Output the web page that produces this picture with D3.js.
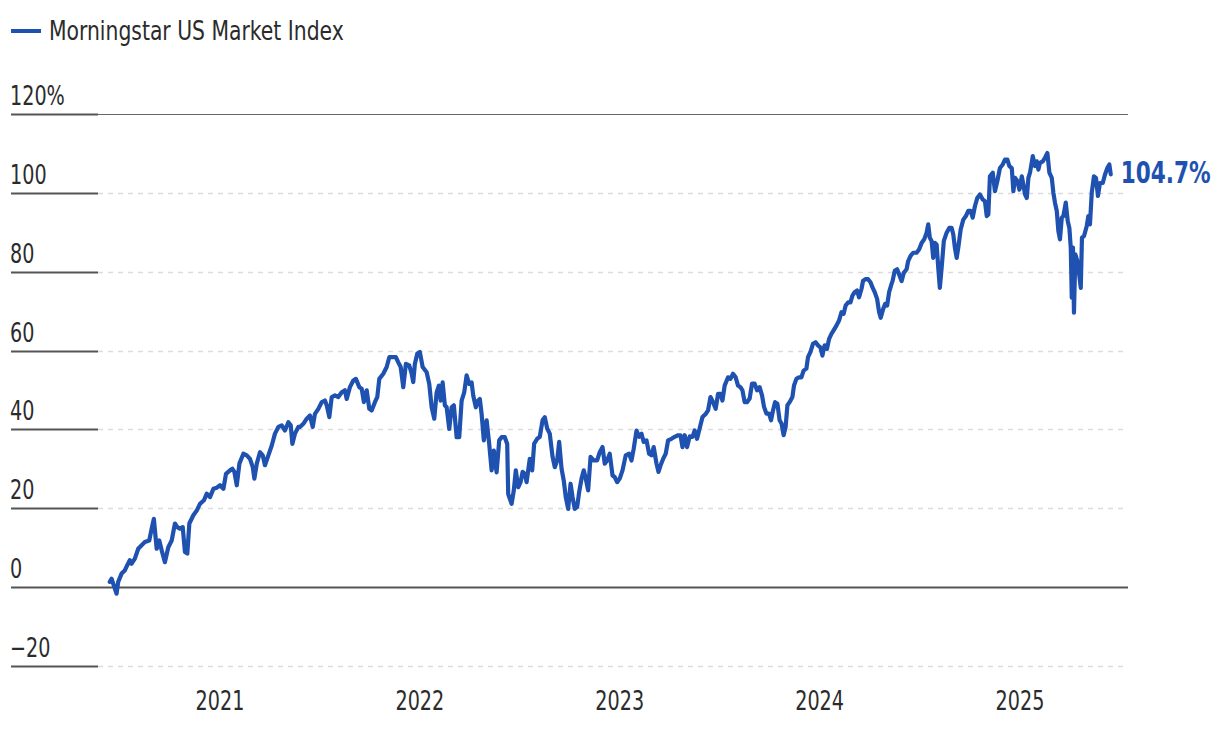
<!DOCTYPE html>
<html>
<head>
<meta charset="utf-8">
<script src="https://cdn.jsdelivr.net/npm/d3@7"></script>
<style>
  html, body { margin: 0; padding: 0; background: #fff; }
  svg text { font-family: "DejaVu Sans Condensed", "DejaVu Sans", sans-serif; font-stretch: condensed; }
</style>
</head>
<body>
<svg id="chart" width="1220" height="732"></svg>
<script>
// Series: Morningstar US Market Index cumulative return (%), dates as decimal years
const seriesName = "Morningstar US Market Index";
const dates = [
2020.450,2020.459,2020.470,2020.484,2020.492,2020.509,2020.525,2020.534,2020.550,2020.559,2020.575,2020.592,2020.609,2020.625,2020.647,2020.659,2020.670,2020.684,2020.697,2020.709,2020.725,2020.742,2020.759,2020.775,2020.787,2020.800,2020.814,2020.825,2020.837,2020.847,2020.867,2020.884,2020.900,2020.920,2020.934,2020.950,2020.967,2020.984,
2021.000,2021.017,2021.030,2021.050,2021.062,2021.072,2021.084,2021.097,2021.117,2021.134,2021.150,2021.164,2021.172,2021.184,2021.200,2021.214,2021.225,2021.242,2021.259,2021.275,2021.292,2021.309,2021.325,2021.342,2021.354,2021.362,2021.375,2021.392,
2021.400,2021.417,2021.434,2021.450,2021.464,2021.475,2021.492,2021.509,2021.525,2021.534,2021.547,2021.559,2021.575,2021.592,2021.609,2021.625,2021.634,2021.650,2021.667,2021.680,2021.697,2021.709,2021.720,2021.734,2021.747,2021.759,2021.775,2021.787,2021.797,2021.817,2021.834,2021.847,2021.864,2021.880,2021.892,2021.904,2021.917,2021.930,2021.947,2021.959,2021.967,2021.975,2021.987,
2022.000,2022.014,2022.034,2022.047,2022.059,2022.072,2022.084,2022.095,2022.104,2022.114,2022.125,2022.134,2022.147,2022.159,2022.170,2022.184,2022.197,2022.209,2022.222,2022.234,2022.247,2022.259,2022.267,2022.280,2022.292,2022.300,2022.309,2022.320,2022.334,2022.347,2022.359,2022.370,2022.384,2022.397,2022.409,2022.425,2022.437,
2022.442,2022.459,2022.470,2022.480,2022.492,2022.504,2022.514,2022.525,2022.534,2022.550,2022.562,2022.572,2022.587,2022.600,2022.614,2022.625,2022.637,2022.650,2022.664,2022.675,2022.687,2022.697,2022.709,2022.720,2022.730,2022.742,2022.754,2022.764,2022.775,2022.787,2022.797,2022.809,2022.820,2022.830,2022.842,2022.854,2022.870,2022.887,2022.900,2022.914,2022.925,2022.937,2022.950,2022.964,2022.975,2022.987,
2023.000,2023.014,2023.030,2023.047,2023.059,2023.070,2023.084,2023.097,2023.109,2023.120,2023.134,2023.147,2023.159,2023.170,2023.184,2023.194,2023.204,2023.217,2023.230,2023.242,2023.259,2023.275,2023.292,2023.304,2023.314,2023.325,2023.337,2023.350,2023.364,2023.375,2023.387,
2023.400,2023.414,2023.430,2023.442,2023.454,2023.467,2023.480,2023.492,2023.504,2023.514,2023.525,2023.542,2023.554,2023.567,2023.580,2023.592,2023.604,2023.614,2023.625,2023.637,2023.650,2023.662,2023.675,2023.687,2023.700,2023.712,2023.722,2023.734,2023.747,2023.757,2023.767,2023.777,2023.789,2023.800,2023.810,2023.820,2023.830,2023.839,2023.850,2023.864,2023.872,2023.884,2023.897,2023.909,2023.920,2023.934,2023.942,2023.954,2023.967,2023.980,2023.992,
2024.004,2024.014,2024.025,2024.037,2024.047,2024.059,2024.070,2024.084,2024.097,2024.109,2024.120,2024.130,2024.142,2024.154,2024.164,2024.175,2024.187,2024.197,2024.209,2024.217,2024.230,2024.242,2024.254,2024.264,2024.275,2024.287,2024.297,2024.305,2024.317,2024.327,2024.337,2024.347,2024.359,
2024.364,2024.375,2024.387,2024.397,2024.409,2024.420,2024.434,2024.442,2024.454,2024.467,2024.484,2024.497,2024.509,2024.522,2024.534,2024.542,2024.550,2024.559,2024.567,2024.575,2024.584,2024.592,2024.600,2024.609,2024.620,2024.634,2024.647,2024.659,2024.667,2024.675,2024.684,2024.692,2024.704,2024.717,2024.730,2024.742,2024.754,2024.764,2024.775,2024.787,2024.800,2024.814,2024.825,2024.834,2024.842,2024.850,2024.864,2024.875,2024.887,2024.900,2024.914,2024.925,2024.937,2024.947,2024.959,2024.967,2024.975,2024.987,2024.997,
2025.009,2025.017,2025.025,2025.034,2025.042,2025.050,2025.064,2025.075,2025.084,2025.092,2025.100,2025.114,2025.125,2025.137,2025.147,2025.159,2025.167,2025.175,2025.184,2025.192,2025.200,2025.209,2025.217,2025.229,2025.239,2025.247,2025.254,2025.259,2025.265,2025.270,2025.277,2025.287,2025.294,2025.304,2025.310,2025.320,2025.334,2025.342,2025.350,2025.359,2025.370,2025.380,2025.390,2025.400,2025.414,2025.425,2025.437,2025.447,2025.454
];
const returns = [
1.3,2.1,0.4,-1.7,1.3,3.4,4.2,5.2,6.8,5.9,7.2,9.7,10.6,11.4,11.8,14.8,17.3,9.7,11.8,9.3,6.3,10.1,11.8,16.1,15.2,14.8,15.2,8.9,8.5,16.1,18.2,19.4,21.1,22.0,23.7,22.8,24.9,25.2,
25.8,24.9,28.7,29.6,30.0,29.2,25.8,31.3,33.8,33.4,32.5,30.4,27.5,31.3,34.2,33.4,30.9,33.4,35.9,38.9,40.6,41.0,39.7,41.8,41.0,36.3,38.9,40.6,
40.6,41.4,42.7,43.5,40.6,43.9,45.2,46.9,47.3,46.1,43.1,48.2,48.6,48.2,49.4,49.9,47.7,50.7,52.4,52.8,50.7,50.3,46.9,49.9,45.2,44.8,46.9,48.2,52.8,54.1,55.8,58.3,58.3,58.3,57.0,55.8,50.7,56.6,56.2,54.1,52.0,56.6,59.2,
59.6,55.8,54.5,51.5,45.6,42.7,49.4,51.1,47.3,51.9,46.1,45.6,40.1,45.6,46.1,38.0,38.0,47.3,49.4,53.7,51.5,51.9,48.6,45.6,47.3,47.7,43.9,37.2,42.3,36.3,29.6,34.6,29.1,37.2,38.0,38.0,36.3,
23.6,21.1,24.5,29.6,25.3,26.6,29.2,28.7,26.6,32.5,29.6,36.4,37.6,38.1,42.3,43.1,40.2,38.9,33.0,30.4,32.1,36.8,30.0,27.0,22.8,19.8,26.2,22.8,19.8,20.3,24.1,27.5,29.6,27.5,24.5,33.0,32.1,32.1,34.2,35.5,31.3,32.1,33.8,28.3,27.9,26.6,
27.5,29.6,33.4,33.8,32.1,35.1,39.7,38.1,38.9,36.8,37.2,33.8,33.4,35.5,31.3,29.2,30.8,32.5,33.8,37.2,37.6,38.1,38.5,38.5,35.5,38.5,35.5,38.2,38.1,39.7,37.6,
40.3,43.1,43.9,44.8,48.2,46.9,45.2,49.0,49.0,47.3,51.1,53.2,52.8,54.1,53.2,51.1,50.7,49.9,46.9,46.9,47.8,51.6,51.6,49.9,50.7,48.6,45.7,44.0,44.0,42.3,44.8,46.9,46.5,42.3,41.4,38.5,40.6,46.1,46.9,48.2,51.1,52.8,53.2,53.2,54.9,55.4,58.3,59.6,61.7,62.1,61.3,
60.8,58.7,61.3,60.4,62.9,64.2,65.1,66.3,67.6,69.7,69.3,71.4,72.2,72.2,73.9,74.8,75.2,73.5,75.6,77.7,78.1,78.1,77.3,76.0,74.8,73.1,69.7,68.3,70.5,71.8,71.4,74.8,76.9,
77.6,80.2,80.6,79.3,77.6,79.7,80.6,82.7,84.0,84.8,84.8,85.7,87.3,88.2,89.9,92.0,88.6,87.8,83.5,87.3,86.9,81.0,75.9,81.0,87.8,89.9,91.1,91.1,89.5,86.1,83.5,86.1,90.7,93.2,94.1,95.4,95.4,93.7,96.6,98.7,99.6,98.3,97.9,94.1,94.5,104.2,105.1,100.4,103.0,106.3,107.2,108.4,108.4,106.8,106.3,100.4,103.8,103.0,100.8,
104.2,102.1,99.6,98.7,103.8,105.1,109.3,106.8,108.0,105.9,107.6,108.0,108.9,110.1,105.1,103.8,100.0,97.5,95.4,90.3,88.2,93.7,94.1,97.5,92.8,91.1,86.1,73.4,86.1,69.6,84.4,82.7,80.2,75.9,88.6,89.0,91.6,94.1,92.0,100.0,104.2,103.8,99.2,102.5,102.5,104.6,106.3,107.2,104.7
];
const yTicks = [-20, 0, 20, 40, 60, 80, 100, 120];
const yTickLabels = ["\u221220", "0", "20", "40", "60", "80", "100", "120%"];
const xTickYears = [2021, 2022, 2023, 2024, 2025];
const endLabel = "104.7%";

const blue = "#1f52b0";
const textColor = "#2b2b2b";
const squeeze = 0.82;   // horizontal condensing of the text face
const svg = d3.select("#chart");

function decToDate(d) {
  const y = Math.floor(d);
  const a = Date.UTC(y, 0, 1), b = Date.UTC(y + 1, 0, 1);
  return new Date(a + (d - y) * (b - a));
}
const data = dates.map((d, i) => ({ date: decToDate(d), value: returns[i] }));

const x = d3.scaleUtc()
  .domain([new Date(Date.UTC(2021, 0, 1)), new Date(Date.UTC(2025, 0, 1))])
  .range([220, 1020]);
const y = d3.scaleLinear().domain([0, 120]).range([587, 114]);

function ctext(g, tx, ty, str, size, opts = {}) {
  return g.append("text")
    .attr("transform", `translate(${tx},${ty}) scale(${opts.sx || squeeze},1)`)
    .attr("font-size", size)
    .attr("font-weight", opts.bold ? "bold" : null)
    .attr("text-anchor", opts.anchor || "start")
    .attr("fill", opts.fill || textColor)
    .text(str);
}

const gridLeft = 11, gridMid = 98, gridRight = 1128;

// Gridlines
const grid = svg.append("g");
yTicks.forEach((t, i) => {
  const yy = Math.round(y(t)) + 0.5;
  const isZero = t === 0, isTop = t === 120;
  if (isZero) {
    grid.append("line").attr("x1", gridLeft).attr("x2", gridRight).attr("y1", yy).attr("y2", yy)
      .attr("stroke", "#555").attr("stroke-width", 2);
  } else {
    grid.append("line").attr("x1", gridMid).attr("x2", gridRight).attr("y1", yy).attr("y2", yy)
      .attr("stroke", isTop ? "#666" : "#dcdcdc").attr("stroke-width", isTop ? 1.2 : 1.6)
      .attr("stroke-dasharray", isTop ? null : "5,5");
    grid.append("line").attr("x1", gridLeft).attr("x2", gridMid).attr("y1", yy).attr("y2", yy)
      .attr("stroke", "#555").attr("stroke-width", 2);
  }
  ctext(grid, gridLeft - 1, yy - 10, yTickLabels[i], 26);
});

// X axis labels (positions from the time scale's ticks)
const xAxisG = svg.append("g");
xTickYears.forEach(yr => {
  const d = new Date(Date.UTC(yr, 0, 1));
  ctext(xAxisG, x(d), 710, d3.utcFormat("%Y")(d), 26, { anchor: "middle" });
});

// Line
const line = d3.line().x(d => x(d.date)).y(d => y(d.value)).curve(d3.curveLinear);
svg.append("path").datum(data).attr("d", line)
  .attr("fill", "none").attr("stroke", blue).attr("stroke-width", 4.2)
  .attr("stroke-linejoin", "round").attr("stroke-linecap", "round");

// End label
const last = data[data.length - 1];
ctext(svg, x(last.date) + 10, y(last.value) + 9, endLabel, 30, { bold: true, fill: blue, sx: 0.8 });

// Legend
svg.append("line").attr("x1", 11).attr("x2", 41).attr("y1", 31).attr("y2", 31)
  .attr("stroke", blue).attr("stroke-width", 4);
ctext(svg, 49, 40, seriesName, 26, { sx: 0.87 });
</script>
</body>
</html>
